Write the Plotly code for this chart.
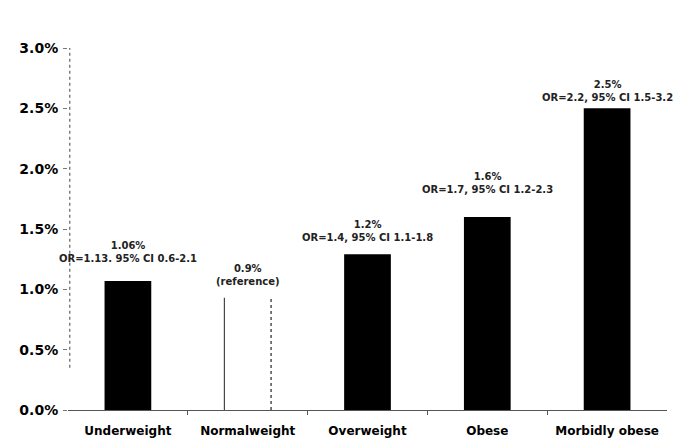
import plotly.graph_objects as go

categories = ["Underweight", "Normalweight", "Overweight", "Obese", "Morbidly obese"]
values = [1.07, 0.93, 1.29, 1.6, 2.5]
pct_labels = ["1.06%", "0.9%", "1.2%", "1.6%", "2.5%"]
or_labels = ["OR=1.13. 95% CI 0.6-2.1", "(reference)", "OR=1.4, 95% CI 1.1-1.8",
             "OR=1.7, 95% CI 1.2-2.3", "OR=2.2, 95% CI 1.5-3.2"]
label_shift = [15, 9, 9, 20, 3]
y_ticks = [0, 0.5, 1.0, 1.5, 2.0, 2.5, 3.0]
y_ticktext = ["0.0%", "0.5%", "1.0%", "1.5%", "2.0%", "2.5%", "3.0%"]

bar_width = 0.39
x_pos = list(range(len(categories)))
ref_idx = 1

fill = ["black"] * len(categories)
fill[ref_idx] = "white"

FONT = "DejaVu Sans"

fig = go.Figure()
fig.add_trace(go.Bar(x=x_pos, y=values, width=bar_width,
                     marker=dict(color=fill, line=dict(width=0)),
                     showlegend=False, hoverinfo="skip"))

# reference bar outline (left edge solid, right edge dotted)
xl = x_pos[ref_idx] - bar_width / 2
xr = x_pos[ref_idx] + bar_width / 2
fig.add_trace(go.Scatter(x=[xl, xl], y=[0, values[ref_idx]], mode="lines",
                         line=dict(color="#222", width=1), showlegend=False, hoverinfo="skip"))
fig.add_trace(go.Scatter(x=[xr, xr], y=[0, values[ref_idx]], mode="lines",
                         line=dict(color="#222", width=1.2, dash="dot"), showlegend=False, hoverinfo="skip"))

for i, (v, p, o, s) in enumerate(zip(values, pct_labels, or_labels, label_shift)):
    fig.add_annotation(x=x_pos[i], y=v, text=p + "<br>" + o, showarrow=False,
                       yanchor="bottom", yshift=s, xanchor="center",
                       font=dict(family=FONT, size=10, color="#222", weight="bold"))

# dotted y-axis line
fig.add_shape(type="line", xref="paper", yref="y", x0=0.003, x1=0.003, y0=0.35, y1=3.0,
              line=dict(color="#444", width=1, dash="dot"))

fig.update_layout(
    width=677, height=432,
    margin=dict(l=60, r=18, t=40, b=30),
    plot_bgcolor="white", paper_bgcolor="white",
    xaxis=dict(range=[-0.5, 4.5], tickmode="array", tickvals=x_pos, ticktext=categories,
               ticks="", showline=True, linecolor="#555", linewidth=1, showgrid=False,
               zeroline=False, ticklabelstandoff=10, automargin=False,
               tickfont=dict(family=FONT, size=12, color="black", weight="bold"),
               minor=dict(tickmode="array", tickvals=[0.5, 1.5, 2.5, 3.5], ticks="outside",
                          ticklen=4, tickcolor="#555", showgrid=False)),
    yaxis=dict(range=[0, 3.0], tickmode="array", tickvals=y_ticks, ticktext=y_ticktext,
               ticks="outside", ticklen=4, tickcolor="#777", showline=False, showgrid=False,
               zeroline=False, ticklabelstandoff=2, automargin=False,
               tickfont=dict(family=FONT, size=14, color="black", weight="bold")),
    font=dict(family=FONT),
)

fig.write_html("out.html")
